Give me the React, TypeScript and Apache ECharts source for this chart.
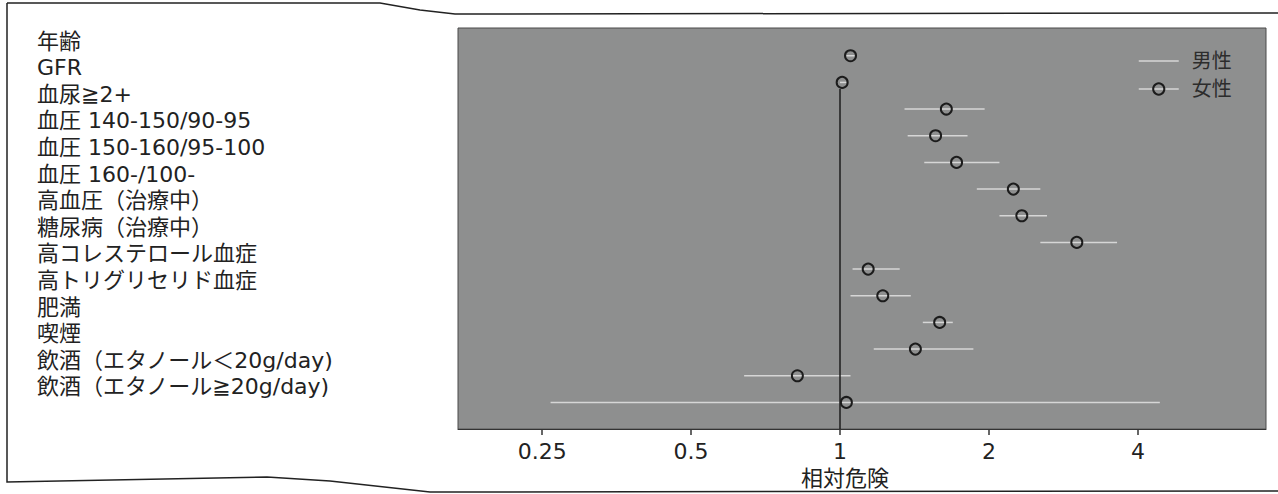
import React, { useEffect, useRef } from "react";
import * as echarts from "echarts";

const categories = [
  "年齢",
  "GFR",
  "血尿≧2+",
  "血圧 140-150/90-95",
  "血圧 150-160/95-100",
  "血圧 160-/100-",
  "高血圧（治療中）",
  "糖尿病（治療中）",
  "高コレステロール血症",
  "高トリグリセリド血症",
  "肥満",
  "喫煙",
  "飲酒（エタノール＜20g/day)",
  "飲酒（エタノール≧20g/day)",
];

// 女性 relative risk (point estimate) and confidence limits
const femaleRR = [1.05, 1.01, 1.64, 1.56, 1.72, 2.24, 2.33, 3.01, 1.14, 1.22, 1.59, 1.42, 0.82, 1.03];
const femaleLow = [1.03, 1.0, 1.35, 1.37, 1.48, 1.89, 2.1, 2.54, 1.06, 1.05, 1.47, 1.17, 0.64, 0.26];
const femaleHigh = [1.07, 1.03, 1.96, 1.81, 2.1, 2.54, 2.62, 3.63, 1.32, 1.39, 1.69, 1.86, 1.05, 4.43];

// 男性 series appears only in the legend in the reference
const maleRR: number[] = [];

const xTicks = [0.25, 0.5, 1, 2, 4];
const xMin = 0.169;
const xMax = 7.26;
const refValue = 1;

const FONT = "'DejaVu Sans', 'Noto Sans CJK JP', sans-serif";

export default function App() {
  const ref = useRef<HTMLDivElement>(null);

  useEffect(() => {
    if (!ref.current) return;
    const chart = echarts.init(ref.current, null, { renderer: "svg" });
    const ptData = femaleRR.map((v, i) => [v, i]);
    const ciData = femaleRR.map((_, i) => [femaleLow[i], femaleHigh[i], i]);

    chart.setOption({
      animation: false,
      backgroundColor: "#ffffff",
      grid: [
        {
          left: 458,
          right: 12,
          top: 28,
          bottom: 61,
          show: true,
          backgroundColor: "#8e8f8f",
          borderColor: "#4a4a4a",
          borderWidth: 1,
        },
        {
          left: 37,
          width: 10,
          top: 27.7,
          height: 372.4,
          show: false,
        },
      ],
      legend: {
        data: [
          { name: "男性", itemStyle: { opacity: 0 }, lineStyle: { color: "#d6d6d6", width: 1.5, opacity: 1 } },
          { name: "女性", lineStyle: { color: "#d6d6d6", width: 1.5, opacity: 1 } },
        ],
        orient: "vertical",
        left: 1133,
        top: 46,
        itemWidth: 40,
        itemHeight: 14,
        itemGap: 8,
        selectedMode: false,
        textStyle: { fontFamily: FONT, fontSize: 20, color: "#2c2c2c", lineHeight: 20, padding: [0, 0, 0, 8] },
      },
      xAxis: [
        {
          type: "log",
          logBase: 2,
          gridIndex: 0,
          min: xMin,
          max: xMax,
          name: "相対危険",
          nameLocation: "middle",
          nameGap: 34,
          nameTextStyle: { fontFamily: FONT, fontSize: 22, color: "#222", padding: [0, 34, 0, 0] },
          axisLine: { show: true, onZero: false, lineStyle: { color: "#333", width: 1 } },
          axisTick: {
            show: true,
            length: 6,
            customValues: xTicks,
            lineStyle: { color: "#333", width: 1.5 },
          },
          axisLabel: {
            customValues: xTicks,
            margin: 11,
            fontFamily: FONT,
            fontSize: 22,
            color: "#222",
            formatter: (v: number) => String(Number(Number(v).toPrecision(3))),
          },
          splitLine: { show: false },
        },
        {
          type: "value",
          gridIndex: 1,
          show: false,
        },
      ],
      yAxis: [
        {
          type: "value",
          gridIndex: 0,
          inverse: true,
          min: -1.04,
          max: 14.0,
          show: false,
        },
        {
          type: "category",
          gridIndex: 1,
          inverse: true,
          data: categories,
          axisLine: { show: false },
          axisTick: { show: false },
          axisLabel: {
            align: "left",
            margin: 0,
            fontFamily: FONT,
            fontSize: 22,
            color: "#222",
            interval: 0,
          },
        },
      ],
      series: [
        {
          name: "女性CI",
          type: "custom",
          xAxisIndex: 0,
          yAxisIndex: 0,
          z: 2,
          silent: true,
          data: ciData,
          encode: { x: [0, 1], y: 2 },
          renderItem: (_params: any, api: any) => {
            const p1 = api.coord([api.value(0), api.value(2)]);
            const p2 = api.coord([api.value(1), api.value(2)]);
            return {
              type: "line",
              shape: { x1: p1[0], y1: p1[1], x2: p2[0], y2: p2[1] },
              style: { stroke: "#d6d6d6", lineWidth: 1.5 },
            };
          },
        },
        {
          name: "男性",
          type: "line",
          xAxisIndex: 0,
          yAxisIndex: 0,
          data: maleRR,
          symbol: "none",
          itemStyle: { color: "rgba(0,0,0,0)" },
          lineStyle: { color: "#d6d6d6", width: 1.5 },
        },
        {
          name: "女性",
          type: "line",
          xAxisIndex: 0,
          yAxisIndex: 0,
          z: 4,
          data: ptData,
          symbol: "circle",
          symbolSize: 11,
          lineStyle: { opacity: 0, width: 0 },
          itemStyle: { color: "rgba(0,0,0,0)", borderColor: "#1c1c1c", borderWidth: 2 },
          markLine: {
            silent: true,
            symbol: ["none", "none"],
            label: { show: false },
            lineStyle: { color: "#1c1c1c", width: 1.5, type: "solid" },
            data: [[{ coord: [refValue, 1.25] }, { coord: [refValue, 14.0] }]],
          },
        },
      ],
      graphic: [
        {
          type: "polyline",
          silent: true,
          shape: { points: [[7, 3], [380, 3], [420, 10], [455, 14], [1278, 13]] },
          style: { stroke: "#222", lineWidth: 1.5, fill: "none" },
        },
        {
          type: "polyline",
          silent: true,
          shape: { points: [[7, 3], [7, 482], [267, 477], [330, 481], [430, 492], [1278, 491]] },
          style: { stroke: "#222", lineWidth: 1.5, fill: "none" },
        },
      ],
    });
    return () => chart.dispose();
  }, []);

  return (
    <div
      ref={ref}
      style={{ position: "fixed", left: 0, top: 0, width: 1278, height: 494 }}
    />
  );
}
